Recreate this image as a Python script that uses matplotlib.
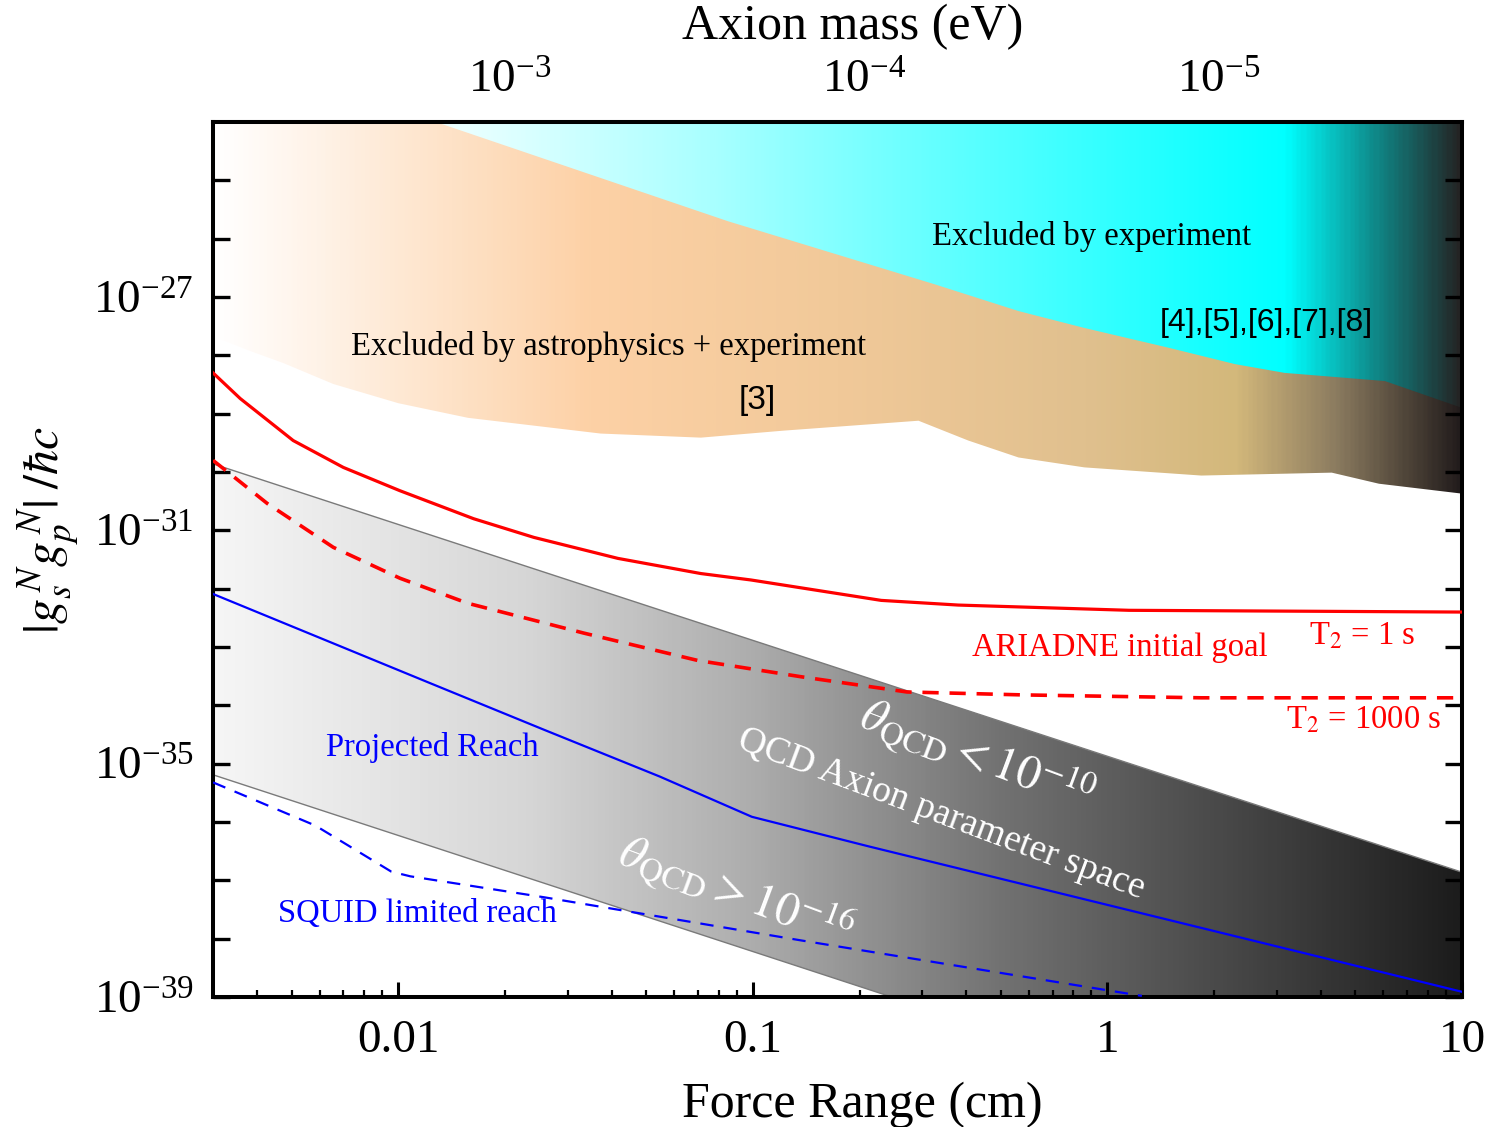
import numpy as np
import matplotlib.pyplot as plt
from matplotlib.patches import Polygon
from matplotlib.colors import LinearSegmentedColormap
from matplotlib.ticker import FixedLocator, FuncFormatter, LogLocator, NullFormatter

plt.rcParams['font.family'] = 'Liberation Serif'
plt.rcParams['mathtext.fontset'] = 'stix'
plt.rcParams['axes.unicode_minus'] = False

# force range in cm, coupling as log10(|gs gp|/hbar c)
t2_1s_cm = [0.0030, 0.00358, 0.00505, 0.00699, 0.0101, 0.0163, 0.0241, 0.0416, 0.0713, 0.0987, 0.230, 0.379, 1.15, 10.0]
t2_1s_exp = [-28.30, -28.74, -29.46, -29.92, -30.32, -30.80, -31.12, -31.48, -31.74, -31.85, -32.20, -32.28, -32.37, -32.40]

t2_1000s_cm = [0.0030, 0.00335, 0.00427, 0.00655, 0.0101, 0.0157, 0.0241, 0.0333, 0.0699, 0.137, 0.272, 0.575, 1.84, 10.0]
t2_1000s_exp = [-29.80, -30.03, -30.54, -31.29, -31.82, -32.25, -32.54, -32.76, -33.23, -33.51, -33.77, -33.82, -33.87, -33.87]

projected_cm = [0.0030, 0.0123, 0.0258, 0.0546, 0.0993, 0.213, 10.0]
projected_exp = [-32.09, -33.62, -34.42, -35.22, -35.91, -36.42, -38.91]

squid_cm = [0.0030, 0.00583, 0.00955, 0.0108, 0.0258, 0.137, 1.25]
squid_exp = [-35.32, -36.06, -36.85, -36.93, -37.29, -38.03, -38.98]

# lower edges of the excluded regions
exp_cm = [0.0132, 0.085, 0.325, 0.561, 0.861, 1.49, 2.29, 3.16, 6.06, 10.0]
exp_exp = [-24.03, -25.70, -26.78, -27.24, -27.53, -27.87, -28.15, -28.30, -28.44, -28.90]

astro_cm = [0.0030, 0.0038, 0.00473, 0.00655, 0.0100, 0.0157, 0.0372, 0.0713, 0.122, 0.293, 0.405, 0.561, 0.861, 1.84, 4.29, 5.83, 10.0]
astro_exp = [-27.67, -27.92, -28.13, -28.49, -28.82, -29.07, -29.34, -29.41, -29.29, -29.12, -29.46, -29.75, -29.92, -30.06, -30.01, -30.20, -30.37]

# QCD axion band
qcd_cm = [0.003, 10.0]
qcd_upper_exp = [-29.86, -36.86]
qcd_lower_exp = [-35.19, -42.20]

hbarc = 2.06e-5  # eV cm, mass = hbar c / range (as placed on the top axis)

top_exp = -23.0


def gradient_fill(ax, xs, lo, hi, colors, zorder):
    verts = list(zip(xs, lo)) + list(zip(xs[::-1], hi[::-1]))
    patch = Polygon(verts, closed=True, facecolor='none', edgecolor='none')
    ax.add_patch(patch)
    cmap = LinearSegmentedColormap.from_list('g', colors)
    grad = np.linspace(0, 1, 600).reshape(1, -1)
    im = ax.imshow(grad, cmap=cmap, extent=[0, 1, 0, 1], transform=ax.transAxes,
                   aspect='auto', zorder=zorder, interpolation='bilinear')
    im.set_clip_path(patch)


fig = plt.figure(figsize=(14.96, 11.27), dpi=100)
ax = fig.add_axes([0.1424, 0.1153, 0.8349, 0.7764])
ax.set_xscale('log')
ax.set_yscale('log')
ax.set_xlim(0.003, 10)
ax.set_ylim(1e-39, 1e-24)
ax.set_autoscale_on(False)

# astrophysics + experiment
ax_x = np.array(astro_cm)
gradient_fill(ax, ax_x, 10.0 ** np.array(astro_exp), np.full(len(ax_x), 10.0 ** top_exp),
              [(0.0, '#FFFFFF'), (0.08, '#FFF3E8'), (0.3, '#FDD1A6'), (0.5, '#F1C999'),
               (0.7, '#E0C08E'), (0.82, '#D3B87B'), (0.9, '#8C7C60'), (1.0, '#221C1C')], 1.0)

# experiment
ex_x = np.array(exp_cm)
gradient_fill(ax, ex_x, 10.0 ** np.array(exp_exp), np.full(len(ex_x), 10.0 ** top_exp),
              [(0.0, '#FFFFFF'), (0.18, '#F0FFFF'), (0.4, '#A8FFFF'), (0.6, '#5CFFFF'),
               (0.8, '#14FFFF'), (0.86, '#00FFFF'), (0.93, '#0E8C8C'), (1.0, '#242424')], 1.1)

# QCD band
q_x = np.array(qcd_cm)
gradient_fill(ax, q_x, 10.0 ** np.array(qcd_lower_exp), 10.0 ** np.array(qcd_upper_exp),
              [(0.0, '#F6F6F6'), (0.25, '#D6D6D6'), (0.43, '#ADADAD'), (0.63, '#727272'),
               (0.83, '#444444'), (1.0, '#1C1C1C')], 1.2)
ax.plot(qcd_cm, 10.0 ** np.array(qcd_upper_exp), color='#7A7A7A', lw=1.0, zorder=1.3)
ax.plot(qcd_cm, 10.0 ** np.array(qcd_lower_exp), color='#7A7A7A', lw=1.0, zorder=1.3)

ax.plot(t2_1s_cm, 10.0 ** np.array(t2_1s_exp), color='red', lw=2.3, zorder=3)
ax.plot(t2_1000s_cm, 10.0 ** np.array(t2_1000s_exp), color='red', lw=2.6, ls=(0, (4.5, 3)), zorder=3)
ax.plot(projected_cm, 10.0 ** np.array(projected_exp), color='blue', lw=1.6, zorder=3)
ax.plot(squid_cm, 10.0 ** np.array(squid_exp), color='blue', lw=1.6, ls=(0, (6, 4.5)), zorder=3)

# axes styling
for s in ax.spines.values():
    s.set_linewidth(2.9)
ax.yaxis.set_major_locator(FixedLocator(10.0 ** np.arange(-39, -24)))
ax.yaxis.set_minor_locator(FixedLocator([]))
labelled = [-39, -35, -31, -27]
ax.yaxis.set_major_formatter(FuncFormatter(
    lambda v, p: r'$\mathdefault{10^{%d}}$' % round(np.log10(v)) if round(np.log10(v)) in labelled else ''))
ax.xaxis.set_major_locator(FixedLocator([0.01, 0.1, 1, 10]))
ax.xaxis.set_major_formatter(FuncFormatter(lambda v, p: {0.01: '0.01', 0.1: '0.1', 1: '1', 10: '10'}.get(v, '')))
ax.xaxis.set_minor_locator(LogLocator(base=10, subs=np.arange(2, 10)))
ax.xaxis.set_minor_formatter(NullFormatter())
ax.tick_params(axis='y', which='major', direction='in', length=12, width=2.4, left=True, right=True,
               labelsize=34, pad=14)
ax.tick_params(axis='x', which='major', direction='in', length=11, width=2.2, top=False,
               labelsize=34, pad=16)
ax.tick_params(axis='x', which='minor', direction='in', length=5, width=1.6, top=False)

sec = ax.secondary_xaxis('top', functions=(lambda x: hbarc / x, lambda m: hbarc / m))
sec.xaxis.set_major_locator(FixedLocator([1e-3, 1e-4, 1e-5]))
sec.xaxis.set_minor_locator(LogLocator(base=10, subs=np.arange(2, 10)))
sec.xaxis.set_minor_formatter(NullFormatter())
sec.tick_params(which='major', direction='in', length=10, width=2.2, labelsize=34, pad=14)
sec.tick_params(which='minor', direction='in', length=5, width=1.6)
sec.spines['top'].set_linewidth(2.9)
sec.set_xlabel('Axion mass (eV)', fontsize=36, labelpad=15)
sec.xaxis.label.set_x(0.512)

ax.set_xlabel('Force Range (cm)', fontsize=36)
ax.xaxis.set_label_coords(0.5196, -0.097)
ax.set_ylabel(r'$|g_s^{\,N}g_p^{\,N}|\;/\hbar c$', fontsize=36)
ax.yaxis.set_label_coords(-0.105, 0.534)

# annotations
ax.text(0.90, 10 ** -25.96, 'Excluded by experiment', fontsize=23.5, ha='center', va='center', zorder=4)
ax.text(2.81, 10 ** -27.44, '[4],[5],[6],[7],[8]', fontsize=23, family='Liberation Sans',
        ha='center', va='center', zorder=4)
ax.text(0.0392, 10 ** -27.84, 'Excluded by astrophysics + experiment', fontsize=23.5,
        ha='center', va='center', zorder=4)
ax.text(0.103, 10 ** -28.78, '[3]', fontsize=24, family='Liberation Sans', ha='center', va='center', zorder=4)
ax.text(1.08, 10 ** -33.02, 'ARIADNE initial goal', fontsize=23.5, color='red', ha='center', va='center', zorder=4)
ax.text(5.22, 10 ** -32.81, r'T$_2$ = 1 s', fontsize=23.5, color='red', ha='center', va='center', zorder=4)
ax.text(5.29, 10 ** -34.26, r'T$_2$ = 1000 s', fontsize=23.5, color='red', ha='center', va='center', zorder=4)
ax.text(0.01248, 10 ** -34.73, 'Projected Reach', fontsize=23.5, color='blue', ha='center', va='center', zorder=4)
ax.text(0.01132, 10 ** -37.58, 'SQUID limited reach', fontsize=23.5, color='blue', ha='center', va='center', zorder=4)
ax.text(0.34, 10 ** -35.87, 'QCD Axion parameter space', fontsize=27, color='white', rotation=-20.5,
        ha='center', va='center', rotation_mode='anchor', zorder=4)
ax.text(0.427, 10 ** -34.88, r'$\theta_{\mathrm{QCD}} < 10^{-10}$', fontsize=34, color='white', rotation=-20.5,
        ha='center', va='center', rotation_mode='anchor', zorder=4)
ax.text(0.0895, 10 ** -37.20, r'$\theta_{\mathrm{QCD}} > 10^{-16}$', fontsize=34, color='white', rotation=-20.5,
        ha='center', va='center', rotation_mode='anchor', zorder=4)

fig.savefig('out.png', dpi=100)
